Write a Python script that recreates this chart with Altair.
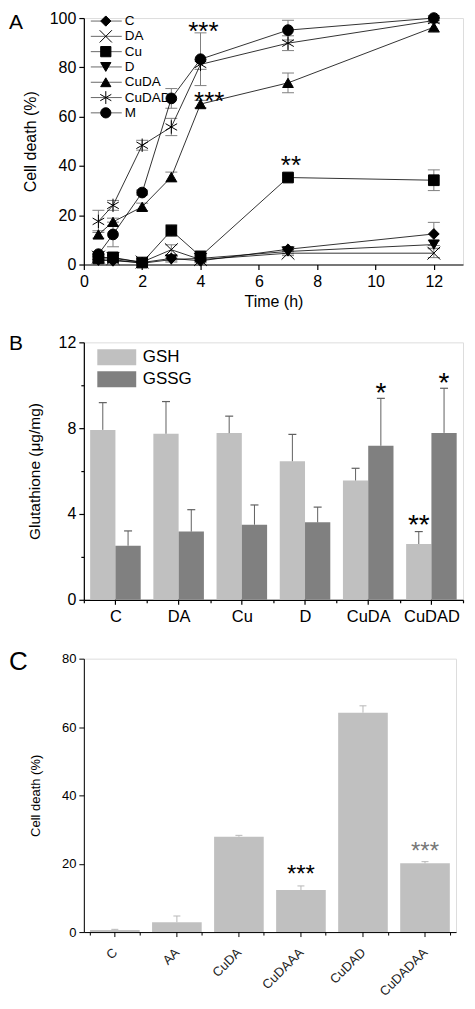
import altair as alt
import pandas as pd

FONT = "Liberation Sans"

# ---------------- Panel A data ----------------
times = [0.5, 1, 2, 3, 4, 7, 12]
series = ["C", "DA", "Cu", "D", "CuDA", "CuDAD", "M"]
death_C = [2.0, 1.5, 0.8, 2.5, 1.5, 6.2, 12.4]
death_DA = [3.0, 2.5, 1.0, 6.0, 2.0, 4.6, 4.6]
death_Cu = [2.5, 2.9, 0.8, 13.8, 3.3, 35.3, 34.2]
death_D = [1.5, 2.0, 0.5, 2.0, 2.5, 5.3, 8.1]
death_CuDA = [12.2, 17.3, 23.4, 35.5, 65.1, 73.7, 96.3]
death_CuDAD = [17.5, 24.0, 48.4, 55.8, 81.2, 89.8, 99.0]
death_M = [4.2, 12.2, 29.2, 67.4, 83.3, 95.1, 100.0]
err_C = [0.8, 0.8, 0.5, 1.0, 0.8, 1.0, 4.7]
err_DA = [1.0, 1.0, 0.5, 2.0, 1.0, 1.0, 1.8]
err_Cu = [1.0, 1.0, 0.5, 2.3, 1.0, 1.0, 4.2]
err_D = [0.8, 0.8, 0.5, 1.0, 1.0, 1.0, 1.5]
err_CuDA = [1.5, 1.5, 1.5, 2.0, 1.5, 4.0, 2.0]
err_CuDAD = [4.5, 2.0, 2.0, 3.5, 2.0, 3.0, 1.0]
err_M = [1.0, 5.0, 1.0, 4.0, 10.7, 4.0, 1.0]
starA_x = [4.1, 4.3, 7.1]
starA_y = [97.2, 68.8, 42.6]
starA_text = ["***", "***", "**"]

# ---------------- Panel B data ----------------
catsB = ["C", "DA", "Cu", "D", "CuDA", "CuDAD"]
groupsB = ["GSH", "GSSG"]
gsh = [7.92, 7.74, 7.77, 6.46, 5.56, 2.60]
gsh_top = [9.19, 9.24, 8.56, 7.71, 6.13, 3.18]
gssg = [2.52, 3.18, 3.50, 3.61, 7.18, 7.78]
gssg_top = [3.21, 4.20, 4.42, 4.32, 9.39, 9.86]
starB_cat = ["CuDA", "CuDAD", "CuDAD"]
starB_group = ["GSSG", "GSSG", "GSH"]
starB_y = [9.98, 10.41, 3.8]
starB_text = ["*", "*", "**"]

# ---------------- Panel C data ----------------
catsC = ["C", "AA", "CuDA", "CuDAAA", "CuDAD", "CuDADAA"]
deathC = [0.6, 2.9, 27.9, 12.3, 64.2, 20.1]
deathC_top = [0.8, 4.7, 28.3, 13.5, 66.2, 20.6]
starC_cat = ["CuDAAA", "CuDADAA"]
starC_y = [18.6, 25.4]
starC_text = ["***", "***"]
starC_col = ["k", "g"]

# ---------------- helpers ----------------
X_PATH = "M-1.2,-1.2L1.2,1.2M-1.2,1.2L1.2,-1.2"
STAR_PATH = "M0,-1.25L0,1.25M-1.08,-0.62L1.08,0.62M-1.08,0.62L1.08,-0.62"
CAP = "M-1,0L1,0"
RECT = "M-1,-0.41L1,-0.41L1,0.41L-1,0.41Z"


def cond_tick(major, big=5, small=3):
    return {"condition": {"test": f"datum.value % {major} === 0", "value": big}, "value": small}


def axis(values, major, title, fs, tfs, tpad, lpad=3, width=1.2):
    return alt.Axis(
        values=values,
        labelExpr=f"datum.value % {major} === 0 ? datum.label : ''",
        tickSize=cond_tick(major),
        title=title, labelFontSize=fs, titleFontSize=tfs, titleFontWeight="normal",
        labelPadding=lpad, titlePadding=tpad, grid=False, labelOverlap=False, labelFlush=False,
        domainColor="black", tickColor="black", labelColor="black", titleColor="black",
        domainWidth=width, tickWidth=width, labelFont=FONT, titleFont=FONT,
    )


def letter(txt, y, fs):
    return alt.Chart(pd.DataFrame({"t": [txt]})).mark_text(
        align="left", baseline="middle", fontSize=fs, font=FONT, color="black"
    ).encode(text="t:N", x=alt.value(-75), y=alt.value(y))


# ---------------- Panel A ----------------
WA, HA = 380, 247
rowsA = []
for s, vals, errs in zip(series,
                         [death_C, death_DA, death_Cu, death_D, death_CuDA, death_CuDAD, death_M],
                         [err_C, err_DA, err_Cu, err_D, err_CuDA, err_CuDAD, err_M]):
    for t, v, e in zip(times, vals, errs):
        rowsA.append({"series": s, "time": t, "value": v, "lo": max(0.0, v - e), "hi": v + e})
dfA = pd.DataFrame(rowsA)

shape_scale = alt.Scale(domain=series, range=["diamond", X_PATH, "square", "triangle-down",
                                              "triangle-up", STAR_PATH, "circle"])
xA = alt.X("time:Q", scale=alt.Scale(domain=[0, 13], nice=False),
           axis=axis(list(range(0, 14)), 2, "Time (h)", 16, 16, 4, lpad=4))
yA = alt.Y("value:Q", scale=alt.Scale(domain=[0, 100], nice=False),
           axis=axis(list(range(0, 101, 10)), 20, "Cell death (%)", 16, 16, 11))

baseA = alt.Chart(dfA)
errA = baseA.mark_rule(color="#808080", strokeWidth=1).encode(x="time:Q", y="lo:Q", y2="hi:Q")
capA_hi = baseA.mark_point(shape=CAP, size=144, filled=False, color="#808080", strokeWidth=1, opacity=1).encode(
    x="time:Q", y="hi:Q")
capA_lo = baseA.mark_point(shape=CAP, size=144, filled=False, color="#808080", strokeWidth=1, opacity=1).encode(
    x="time:Q", y="lo:Q")
lineA = baseA.mark_line(color="black", strokeWidth=0.8).encode(x=xA, y=yA, detail="series:N")
ptA = baseA.mark_point(filled=True, fill="black", stroke="black", strokeWidth=1, size=115, opacity=1).encode(
    x="time:Q", y="value:Q", shape=alt.Shape("series:N", scale=shape_scale, legend=None))
starsA = alt.Chart(pd.DataFrame({"x": starA_x, "y": starA_y, "t": starA_text})).mark_text(
    fontSize=26, font=FONT, baseline="middle", dy=7, color="black").encode(x="x:Q", y="y:Q", text="t:N")
mainA = alt.layer(errA, capA_hi, capA_lo, lineA, ptA, starsA)

legA = alt.Chart(pd.DataFrame({"series": series}))
lyA = alt.Y("series:N", scale=alt.Scale(type="point", domain=series, range=[3, 95], padding=0), axis=None)
legA_line = legA.mark_rule(color="#444", strokeWidth=0.8).encode(y=lyA, x=alt.value(7), x2=alt.value(38))
legA_pt = legA.mark_point(filled=True, fill="black", stroke="black", strokeWidth=1, size=105, opacity=1).encode(
    y=lyA, x=alt.value(22), shape=alt.Shape("series:N", scale=shape_scale, legend=None))
legA_txt = legA.mark_text(align="left", baseline="middle", fontSize=13.5, font=FONT, color="black").encode(
    y=lyA, x=alt.value(41), text="series:N")
legendA = alt.layer(legA_line, legA_pt, legA_txt, letter("A", 5, 21))

panelA = alt.layer(mainA, legendA).resolve_scale(y="independent").properties(width=WA, height=HA)

# ---------------- Panel B ----------------
WB, HB = 380, 258
rowsB = []
for c, a, at, b, bt in zip(catsB, gsh, gsh_top, gssg, gssg_top):
    rowsB.append({"cat": c, "group": "GSH", "value": a, "top": at})
    rowsB.append({"cat": c, "group": "GSSG", "value": b, "top": bt})
dfB = pd.DataFrame(rowsB)

colorB = alt.Scale(domain=groupsB, range=["#c0c0c0", "#808080"])
xB = alt.X("cat:N", sort=catsB, scale=alt.Scale(paddingInner=0, paddingOuter=0),
           axis=alt.Axis(tickBand="extent", tickSize=3, labelAngle=0, title=None, labelFontSize=16.5,
                         labelPadding=6, domainColor="black", tickColor="black", labelColor="black",
                         domainWidth=1.2, tickWidth=1.2, labelFont=FONT, grid=False))
xoB = alt.XOffset("group:N", sort=groupsB, scale=alt.Scale(paddingInner=0, paddingOuter=0.25))
yB = alt.Y("value:Q", scale=alt.Scale(domain=[0, 12], nice=False),
           axis=axis(list(range(0, 13, 2)), 4, "Glutathione (μg/mg)", 16, 15.5, 16))

baseB = alt.Chart(dfB)
barsB = baseB.mark_bar().encode(x=xB, xOffset=xoB, y=yB,
                                color=alt.Color("group:N", scale=colorB, legend=None))
errB = baseB.mark_rule(color="#606060", strokeWidth=1).encode(x=xB, xOffset=xoB, y="value:Q", y2="top:Q")
capB = baseB.mark_point(shape=CAP, size=64, filled=False, color="#606060", strokeWidth=1.2, opacity=1).encode(
    x=xB, xOffset=xoB, y="top:Q")
ticksB = alt.Chart(pd.DataFrame({"cat": catsB})).mark_rule(color="black", strokeWidth=1.2).encode(
    x=xB, y=alt.value(HB), y2=alt.value(HB + 5))
starsB = alt.Chart(pd.DataFrame({"cat": starB_cat, "group": starB_group, "y": starB_y, "t": starB_text})).mark_text(
    fontSize=28, font=FONT, baseline="middle", dy=8, color="black").encode(
    x=xB, xOffset=xoB, y="y:Q", text="t:N")
mainB = alt.layer(barsB, errB, capB, ticksB, starsB)

legB = alt.Chart(pd.DataFrame({"group": groupsB}))
lyB = alt.Y("group:N", scale=alt.Scale(type="point", domain=groupsB, range=[15, 37], padding=0), axis=None)
legB_sw = legB.mark_point(shape=RECT, size=1521, filled=True, opacity=1).encode(
    y=lyB, x=alt.value(33), color=alt.Color("group:N", scale=colorB, legend=None))
legB_txt = legB.mark_text(align="left", baseline="middle", fontSize=17, font=FONT, color="black").encode(
    y=lyB, x=alt.value(59), text="group:N")
legendB = alt.layer(legB_sw, legB_txt, letter("B", 2, 21))

panelB = alt.layer(mainB, legendB).resolve_scale(y="independent").properties(width=WB, height=HB)

# ---------------- Panel C ----------------
WC, HC = 373, 274
dfC = pd.DataFrame({"cat": catsC, "value": deathC, "top": deathC_top})
xC = alt.X("cat:N", sort=catsC, scale=alt.Scale(paddingInner=0.2, paddingOuter=0.1),
           axis=alt.Axis(tickBand="extent", tickSize=3, labelAngle=315, labelAlign="right",
                         labelBaseline="middle", title=None, labelFontSize=13, labelPadding=15,
                         domainColor="black", tickColor="black", labelColor="#222",
                         domainWidth=1, tickWidth=1, labelFont=FONT, grid=False))
yC = alt.Y("value:Q", scale=alt.Scale(domain=[0, 80], nice=False),
           axis=axis(list(range(0, 81, 10)), 20, "Cell death (%)", 13, 13, 19, width=1))
baseC = alt.Chart(dfC)
barsC = baseC.mark_bar(color="#c0c0c0").encode(x=xC, y=yC)
errC = baseC.mark_rule(color="#b8b8b8", strokeWidth=1).encode(x=xC, y="value:Q", y2="top:Q")
capC = baseC.mark_point(shape=CAP, size=49, filled=False, color="#b8b8b8", strokeWidth=1, opacity=1).encode(
    x=xC, y="top:Q")
ticksC = alt.Chart(pd.DataFrame({"cat": catsC})).mark_rule(color="black", strokeWidth=1).encode(
    x=xC, y=alt.value(HC), y2=alt.value(HC + 5))
starsC = alt.Chart(pd.DataFrame({"cat": starC_cat, "y": starC_y, "t": starC_text, "c": starC_col})).mark_text(
    fontSize=24, font=FONT, baseline="middle", dy=7).encode(
    x=xC, y="y:Q", text="t:N",
    color=alt.Color("c:N", scale=alt.Scale(domain=["k", "g"], range=["black", "#777777"]), legend=None))
panelC = alt.layer(barsC, errC, capC, ticksC, starsC, letter("C", 3, 26)).resolve_scale(
    color="independent").properties(width=WC, height=HC)

chart = alt.vconcat(panelA, panelB, panelC, spacing=22).resolve_scale(
    color="independent", x="independent", y="independent", shape="independent", xOffset="independent"
).properties(padding={"left": 0, "top": 0, "right": 2, "bottom": 0}).configure_view(stroke=None).configure(font=FONT)

chart.save("out.html", embed_options={"renderer": "svg", "actions": False})
